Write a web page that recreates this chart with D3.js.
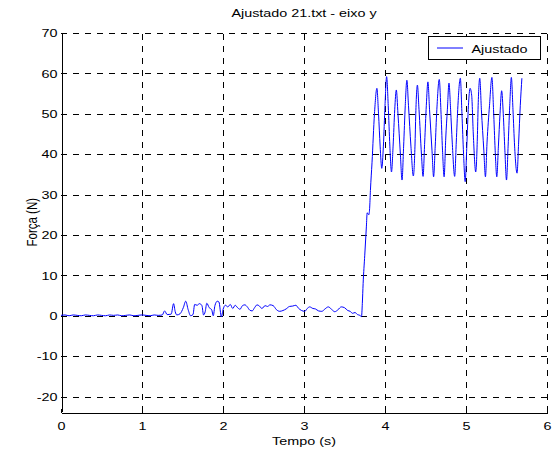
<!DOCTYPE html>
<html>
<head>
<meta charset="utf-8">
<script src="https://cdn.jsdelivr.net/npm/d3@7"></script>
<style>
  html, body { margin: 0; padding: 0; background: #fff; }
  svg { display: block; }
  text { font-family: "Liberation Sans", Arial, sans-serif; fill: #000; }
</style>
</head>
<body>
<svg id="chart" width="558" height="454"></svg>
<script>
// Force signal, y axis component (time in s, force in N)
const tempo = [
  0.00, 0.05, 0.10, 0.15, 0.20, 0.25, 0.30, 0.35, 0.40, 0.45,
  0.50, 0.55, 0.60, 0.65, 0.70, 0.75, 0.80, 0.85, 0.90, 0.95,
  1.00, 1.05, 1.10, 1.15, 1.20, 1.25, 1.28, 1.31, 1.36, 1.39,
  1.41, 1.43, 1.47, 1.51, 1.54, 1.57, 1.60, 1.63, 1.65, 1.68,
  1.71, 1.74, 1.76, 1.78, 1.80, 1.83, 1.86, 1.88, 1.90, 1.93,
  1.95, 1.98, 2.00, 2.03, 2.06, 2.09, 2.12, 2.15, 2.18, 2.21,
  2.24, 2.27, 2.30, 2.33, 2.36, 2.39, 2.42, 2.45, 2.48, 2.52,
  2.55, 2.58, 2.62, 2.66, 2.70, 2.74, 2.78, 2.82, 2.86, 2.90,
  2.93, 2.97, 3.01, 3.04, 3.07, 3.11, 3.14, 3.18, 3.22, 3.26,
  3.30, 3.34, 3.38, 3.42, 3.46, 3.50, 3.54, 3.57, 3.60, 3.63,
  3.66, 3.69, 3.71, 3.72, 3.73, 3.75, 3.77, 3.78, 3.80, 3.81,
  3.82, 3.84, 3.87, 3.90, 3.92, 3.94, 3.96, 3.98, 4.00, 4.02,
  4.04, 4.06, 4.08, 4.10, 4.12, 4.14, 4.16, 4.19, 4.21, 4.23,
  4.25, 4.27, 4.29, 4.32, 4.35, 4.37, 4.38, 4.40, 4.42, 4.45,
  4.47, 4.49, 4.51, 4.53, 4.55, 4.58, 4.60, 4.62, 4.64, 4.67,
  4.69, 4.71, 4.73, 4.75, 4.77, 4.79, 4.81, 4.83, 4.86, 4.88,
  4.90, 4.93, 4.95, 4.97, 4.99, 5.01, 5.03, 5.05, 5.07, 5.09,
  5.12, 5.14, 5.15, 5.17, 5.19, 5.22, 5.24, 5.26, 5.29, 5.32,
  5.34, 5.36, 5.38, 5.40, 5.42, 5.44, 5.46, 5.48, 5.50, 5.52,
  5.54, 5.56, 5.58, 5.60, 5.63, 5.65, 5.67, 5.69
];
const forca = [
  0.1, 0.2, 0.0, 0.2, 0.1, 0.0, 0.2, 0.1, 0.0, 0.2,
  0.1, 0.0, 0.2, 0.1, 0.2, 0.0, 0.1, 0.2, 0.0, 0.1,
  0.2, 0.1, 0.0, 0.2, 0.1, 0.2, 1.2, 0.3, 0.4, 3.0,
  1.0, 0.2, 0.5, 2.0, 3.6, 1.5, 0.0, 0.3, 2.8, 2.6,
  3.0, 2.5, 0.2, 1.0, 3.1, 2.0, 1.5, 0.0, 2.5, 3.6,
  3.4, -0.3, 1.5, 2.6, 2.2, 2.8, 1.8, 2.6, 2.0, 1.6,
  2.5, 2.7, 2.2, 1.4, 1.2, 2.0, 2.7, 2.4, 1.8, 2.5,
  2.3, 2.7, 2.5, 1.5, 1.1, 1.3, 1.7, 2.3, 2.4, 2.6,
  1.9, 1.3, 1.1, 1.8, 2.2, 1.8, 1.7, 1.2, 1.1, 1.7,
  2.2, 1.6, 1.0, 1.5, 2.2, 2.0, 1.3, 1.1, 0.6, 0.8,
  0.3, 0.1, -0.2, 3.0, 8.0, 15.0, 22.0, 25.5, 25.0, 26.5,
  31.0, 38.0, 50.0, 56.3, 50.0, 42.0, 36.5, 42.0, 52.0, 59.2,
  52.0, 42.0, 35.6, 42.0, 51.0, 55.9, 50.0, 40.0, 33.6, 42.0,
  52.0, 58.3, 52.0, 42.0, 34.6, 42.0, 50.0, 57.1, 51.0, 40.0,
  34.5, 43.0, 52.0, 57.9, 51.0, 41.0, 34.4, 42.0, 51.0, 58.5,
  51.0, 41.0, 34.4, 44.0, 51.0, 57.6, 51.0, 43.0, 34.5, 43.0,
  52.0, 58.8, 50.0, 40.0, 33.2, 42.0, 52.0, 56.3, 54.6, 45.0,
  35.6, 44.0, 52.0, 58.8, 51.0, 41.0, 34.4, 43.0, 52.0, 59.0,
  51.0, 41.0, 34.4, 42.0, 50.0, 55.7, 50.0, 41.0, 33.6, 42.0,
  52.0, 59.0, 51.0, 42.0, 35.3, 43.0, 52.0, 58.8
];
const xTicks = [0, 1, 2, 3, 4, 5, 6];
const yTicks = [-20, -10, 0, 10, 20, 30, 40, 50, 60, 70];
const xDomain = [0, 6];
const yDomain = [-23.7, 70];

const titulo = "Ajustado 21.txt - eixo y";
const rotuloX = "Tempo (s)";
const rotuloY = "Força (N)";
const legenda = "Ajustado";

(function () {
  // plot box
  const plotL = 61, plotR = 547, plotT = 33, plotB = 411.5;
  const fontSize = 11.5;
  const stretch = 1.25;   // horizontally widened lettering
  const fmt = d => String(d);   // plain hyphen for negatives

  const svg = d3.select("#chart");
  svg.append("rect").attr("width", 558).attr("height", 454).attr("fill", "#fff");

  const x = d3.scaleLinear().domain(xDomain).range([plotL, plotR]);
  const y = d3.scaleLinear().domain(yDomain).range([plotB, plotT]);

  // dashed grid
  const grid = svg.append("g")
    .attr("stroke", "#000")
    .attr("stroke-width", 1)
    .attr("stroke-dasharray", "6,6")
    .attr("shape-rendering", "crispEdges");
  grid.selectAll("line.h").data(yTicks).join("line")
    .attr("class", "h")
    .attr("x1", plotL).attr("x2", plotR)
    .attr("y1", d => Math.round(y(d)) + 0.5).attr("y2", d => Math.round(y(d)) + 0.5);
  grid.selectAll("line.v").data(xTicks.slice(1)).join("line")
    .attr("class", "v")
    .attr("y1", plotB).attr("y2", plotT)
    .attr("x1", d => Math.round(x(d)) + 0.5).attr("x2", d => Math.round(x(d)) + 0.5);

  // axes (ticks pointing inwards)
  const xAxis = svg.append("g")
    .attr("transform", `translate(0,${Math.round(plotB) + 0.5})`)
    .call(d3.axisBottom(x).tickValues(xTicks).tickFormat(fmt)
      .tickSizeInner(-4).tickSizeOuter(0).tickPadding(9.5));
  const yAxis = svg.append("g")
    .attr("transform", `translate(${plotL + 0.5},0)`)
    .call(d3.axisLeft(y).tickValues(yTicks).tickFormat(fmt)
      .tickSizeInner(-4).tickSizeOuter(0).tickPadding(4));

  [xAxis, yAxis].forEach(a => {
    a.attr("font-family", null).attr("font-size", null);
    a.select(".domain").attr("stroke", "#000").attr("shape-rendering", "crispEdges");
    a.selectAll(".tick line").attr("stroke", "#000").attr("shape-rendering", "crispEdges");
    a.selectAll(".tick text").style("font-size", fontSize + "px");
  });
  xAxis.selectAll(".tick text").attr("transform", `scale(${stretch},1)`);
  yAxis.selectAll(".tick text").attr("x", -4 / stretch).attr("transform", `scale(${stretch},1)`);

  // signal
  const pts = tempo.map((t, i) => [t, forca[i]]);
  const line = d3.line().x(d => x(d[0])).y(d => y(d[1])).curve(d3.curveMonotoneX);
  svg.append("path")
    .datum(pts)
    .attr("fill", "none")
    .attr("stroke", "#0000ff")
    .attr("stroke-width", 1)
    .attr("stroke-linejoin", "round")
    .attr("d", line);

  // title and axis labels
  svg.append("text")
    .attr("transform", `translate(${(plotL + plotR) / 2},17) scale(${stretch},1)`)
    .attr("text-anchor", "middle").style("font-size", fontSize + "px")
    .text(titulo);
  svg.append("text")
    .attr("transform", `translate(${(plotL + plotR) / 2},445) scale(${stretch},1)`)
    .attr("text-anchor", "middle").style("font-size", fontSize + "px")
    .text(rotuloX);
  svg.append("text")
    .attr("transform", `translate(37,${(plotT + plotB) / 2}) rotate(-90) scale(1,${stretch})`)
    .attr("text-anchor", "middle").style("font-size", fontSize + "px")
    .text(rotuloY);

  // legend
  const lg = svg.append("g");
  lg.append("rect")
    .attr("x", 428.5).attr("y", 36.5).attr("width", 112).attr("height", 23)
    .attr("fill", "#fff").attr("stroke", "#000").attr("shape-rendering", "crispEdges");
  lg.append("line")
    .attr("x1", 437).attr("x2", 463).attr("y1", 48).attr("y2", 48)
    .attr("stroke", "#0000ff").attr("stroke-width", 1);
  lg.append("text")
    .attr("transform", `translate(471.5,52.5) scale(${stretch},1)`)
    .style("font-size", fontSize + "px")
    .text(legenda);
})();
</script>
</body>
</html>
